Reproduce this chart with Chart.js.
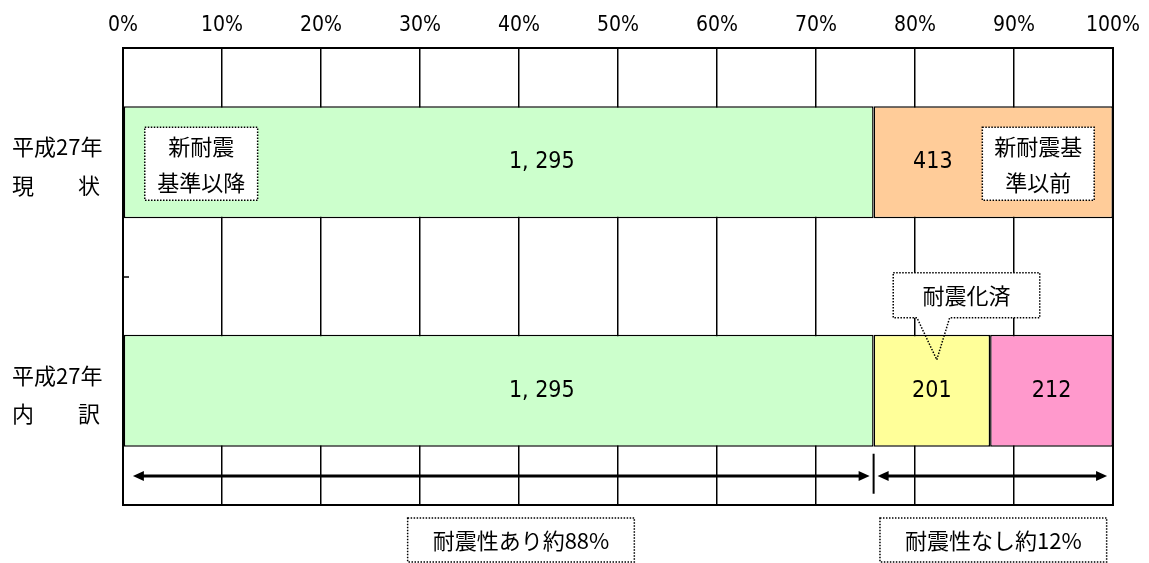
<!DOCTYPE html>
<html>
<head>
<meta charset="utf-8">
<script src="https://cdn.jsdelivr.net/npm/chart.js@4.4.1/dist/chart.umd.min.js"></script>
<style>
  html, body { margin: 0; padding: 0; background: #fff; }
  #wrap { width: 1149px; height: 563px; }
</style>
</head>
<body>
<div id="wrap"><canvas id="quakeChart" width="1149" height="563"></canvas></div>
<script>
// 住宅ストックの耐震化状況（戸数）
const rowLabels = [['平成27年', '現　　状'], ['平成27年', '内　　訳']];
const afterNew = [1295, 1295];        // 新耐震基準以降
const beforeNew = [413, null];        // 新耐震基準以前
const retrofitted = [null, 201];      // 耐震化済
const notRetrofitted = [null, 212];   // 耐震化未
const summaryLabels = ['耐震性あり約88%', '耐震性なし約12%'];

const CJK = '"Noto Sans CJK JP", sans-serif';
const NARROW = '"DejaVu Sans", sans-serif';

const allSeries = [afterNew, beforeNew, retrofitted, notRetrofitted];
const rowTotals = rowLabels.map((_, i) => allSeries.reduce((s, arr) => s + (arr[i] || 0), 0));
const toPct = arr => arr.map((v, i) => v == null ? null : v / rowTotals[i] * 100);

function fmt(n) {
  return n.toLocaleString('en-US').replace(',', ', ');
}

function dottedBox(ctx, l, t, r, b) {
  ctx.fillStyle = '#fff';
  ctx.fillRect(l, t, r - l, b - t);
  ctx.strokeStyle = '#000';
  ctx.lineWidth = 1.5;
  ctx.setLineDash([1.5, 1.5]);
  ctx.strokeRect(l, t, r - l, b - t);
  ctx.setLineDash([]);
}

function arrowHead(ctx, x, y, dir) {
  ctx.beginPath();
  ctx.moveTo(x, y);
  ctx.lineTo(x - dir * 11, y - 5);
  ctx.lineTo(x - dir * 11, y + 5);
  ctx.closePath();
  ctx.fill();
}

// value labels, notes, arrows and frame
const overlay = {
  id: 'overlay',
  afterDatasetsDraw(chart) {
    const { ctx, chartArea: a, scales: { x, y } } = chart;
    ctx.save();

    // frame
    ctx.strokeStyle = '#000';
    ctx.lineWidth = 2;
    ctx.strokeRect(a.left, a.top, a.right - a.left, a.bottom - a.top);

    // small tick between the two rows
    const midY = Math.round((y.getPixelForValue(0) + y.getPixelForValue(1)) / 2);
    ctx.lineWidth = 1.5;
    ctx.beginPath();
    ctx.moveTo(a.left, midY);
    ctx.lineTo(a.left + 6, midY);
    ctx.stroke();

    // values inside bars
    ctx.fillStyle = '#000';
    ctx.font = '23px ' + NARROW;
    ctx.fontStretch = 'condensed';
    ctx.textAlign = 'center';
    ctx.textBaseline = 'middle';
    chart.data.datasets.forEach((ds, di) => {
      const meta = chart.getDatasetMeta(di);
      meta.data.forEach((el, i) => {
        const raw = allSeries[di][i];
        if (raw == null) return;
        const at = ds.labelAt ? x.getPixelForValue(ds.labelAt[i]) : (el.x + el.base) / 2;
        ctx.fillText(fmt(raw), at, el.y);
      });
    });
    ctx.fontStretch = 'normal';

    const bar0 = chart.getDatasetMeta(0).data[0];
    const bar1 = chart.getDatasetMeta(0).data[1];

    // notes in row 1
    ctx.font = '22px ' + CJK;
    const notes = [
      { from: 2.2, to: 13.6, lines: ['新耐震', '基準以降'] },
      { from: 86.8, to: 98.1, lines: ['新耐震基', '準以前'] }
    ];
    notes.forEach(n => {
      const l = x.getPixelForValue(n.from), r = x.getPixelForValue(n.to);
      dottedBox(ctx, l, bar0.y - 35, r, bar0.y + 38);
      ctx.fillStyle = '#000';
      ctx.fillText(n.lines[0], (l + r) / 2, bar0.y - 16);
      ctx.fillText(n.lines[1], (l + r) / 2, bar0.y + 20);
    });

    // callout over 耐震化済
    const top1 = bar1.y - bar1.height / 2;
    const cl = x.getPixelForValue(77.8), cr = x.getPixelForValue(92.6);
    const ct = top1 - 62, cb = top1 - 17;
    const bl = x.getPixelForValue(80.2), br = x.getPixelForValue(83.5);
    const tip = x.getPixelForValue(82.2);
    ctx.fillStyle = '#fff';
    ctx.fillRect(cl, ct, cr - cl, cb - ct);
    ctx.beginPath();
    ctx.moveTo(cl, ct);
    ctx.lineTo(cr, ct);
    ctx.lineTo(cr, cb);
    ctx.lineTo(br, cb);
    ctx.lineTo(tip, top1 + 25);
    ctx.lineTo(bl, cb);
    ctx.lineTo(cl, cb);
    ctx.closePath();
    ctx.strokeStyle = '#000';
    ctx.lineWidth = 1.5;
    ctx.setLineDash([1.5, 1.5]);
    ctx.stroke();
    ctx.setLineDash([]);
    ctx.fillStyle = '#000';
    ctx.fillText('耐震化済', (cl + cr) / 2, (ct + cb) / 2);

    // arrows under row 2
    const bottom1 = bar1.y + bar1.height / 2;
    const ay = Math.round((bottom1 + a.bottom) / 2);
    const split = x.getPixelForValue(afterNew[1] / rowTotals[1] * 100);
    const spans = [[x.getPixelForValue(1), split - 4], [split + 4, x.getPixelForValue(99.4)]];
    ctx.lineWidth = 3;
    spans.forEach(([s, e]) => {
      ctx.beginPath();
      ctx.moveTo(s + 8, ay);
      ctx.lineTo(e - 8, ay);
      ctx.stroke();
      arrowHead(ctx, s, ay, -1);
      arrowHead(ctx, e, ay, 1);
    });
    ctx.lineWidth = 2;
    ctx.beginPath();
    ctx.moveTo(split, bottom1 + 7);
    ctx.lineTo(split, bottom1 + 47);
    ctx.stroke();

    // summary boxes
    const cy = a.bottom + 35;
    const centers = [x.getPixelForValue(40.2), (split + a.right) / 2];
    summaryLabels.forEach((t, i) => {
      const w = ctx.measureText(t).width;
      const l = centers[i] - w / 2 - 25, r = centers[i] + w / 2 + 25;
      dottedBox(ctx, l, cy - 22, r, cy + 22);
      ctx.fillStyle = '#000';
      ctx.fillText(t, centers[i], cy + 1);
    });

    ctx.restore();
  }
};

new Chart(document.getElementById('quakeChart'), {
  type: 'bar',
  data: {
    labels: rowLabels,
    datasets: [
      { label: '新耐震基準以降', data: toPct(afterNew), backgroundColor: '#CCFFCC', labelAt: [42.3, 42.3] },
      { label: '新耐震基準以前', data: toPct(beforeNew), backgroundColor: '#FFCC99', labelAt: [81.8, 81.8] },
      { label: '耐震化済', data: toPct(retrofitted), backgroundColor: '#FFFF99' },
      { label: '耐震化未', data: toPct(notRetrofitted), backgroundColor: '#FF99CC' }
    ].map(ds => Object.assign(ds, {
      borderColor: '#000',
      borderWidth: 1.5,
      borderSkipped: false,
      categoryPercentage: 1,
      barPercentage: 0.49
    }))
  },
  options: {
    indexAxis: 'y',
    responsive: false,
    animation: false,
    layout: { padding: { left: 12, right: 36, top: 0, bottom: 58 } },
    plugins: { legend: { display: false }, tooltip: { enabled: false } },
    scales: {
      x: {
        position: 'top',
        stacked: true,
        min: 0,
        max: 100,
        grid: { color: '#000', lineWidth: 1.5, drawTicks: false },
        border: { color: '#000', width: 2 },
        afterFit(scale) { scale.height = 48; scale.paddingLeft = 0; scale.paddingRight = 0; },
        ticks: {
          stepSize: 10,
          padding: 10,
          color: '#000',
          // "condensed" rides in the weight slot of the font shorthand
          font: { family: NARROW, size: 21, weight: 'condensed' },
          callback: v => v + '%'
        }
      },
      y: {
        stacked: true,
        grid: { display: false },
        border: { color: '#000', width: 2 },
        afterFit(scale) { scale.width = 111; scale.paddingTop = 0; scale.paddingBottom = 0; },
        ticks: {
          crossAlign: 'far',
          labelOffset: 4,
          color: '#000',
          font: { family: CJK, size: 22, lineHeight: 1.75 }
        }
      }
    }
  },
  plugins: [overlay]
});
</script>
</body>
</html>
